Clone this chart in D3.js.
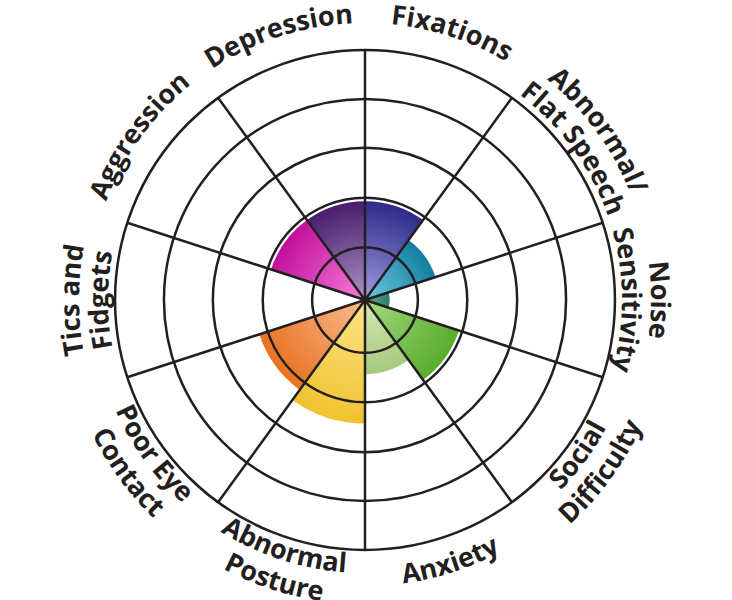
<!DOCTYPE html>
<html>
<head>
<meta charset="utf-8">
<script src="https://cdn.jsdelivr.net/npm/d3@7"></script>
<style>
  body { margin: 0; background: #fff; }
  text { font-family: "Open Sans", sans-serif; font-weight: 700; fill: #231f20; }
</style>
</head>
<body>
<div id="chart"></div>
<script>
// categories, clockwise from 12 o'clock (label lines)
const categories = [
  ["Fixations"],
  ["Abnormal/", "Flat Speech"],
  ["Noise", "Sensitivity"],
  ["Social", "Difficulty"],
  ["Anxiety"],
  ["Abnormal", "Posture"],
  ["Poor Eye", "Contact"],
  ["Tics and", "Fidgets"],
  ["Aggression"],
  ["Depression"]
];
const values = [2, 1.5, 0.5, 2, 1.5, 2.5, 2.25, 0, 2, 2];
const innerColors = ["#a19de0", "#6ccbe2", "#5fae9e", "#a6d97e", "#d6e9b3", "#fde58a", "#f9bc90", "#ffffff", "#f67ddb", "#ab93c7"];
const outerColors = ["#2d2a8a", "#137ea0", "#2a7d6c", "#58ad2c", "#a6ca7e", "#f0c22e", "#e87322", "#ffffff", "#c2109b", "#491d6d"];
const ringLevels = [1.07, 2.07, 3.08, 4.07, 5.06];

const width = 732, height = 600;
const cx = 365, cy = 300;

const svg = d3.select("#chart")
    .append("svg")
    .attr("width", width)
    .attr("height", height);

const r = d3.scaleLinear().domain([0, 5]).range([0, 247]);
const step = 2 * Math.PI / categories.length;

const defs = svg.append("defs");
const g = svg.append("g").attr("transform", `translate(${cx},${cy})`);

// gradients, light at the middle and dark at the edge
values.forEach((v, i) => {
    const grad = defs.append("radialGradient")
        .attr("id", "grad" + i)
        .attr("gradientUnits", "userSpaceOnUse")
        .attr("cx", 0).attr("cy", 0)
        .attr("r", Math.max(r(v), 1));
    grad.append("stop").attr("offset", "0%").attr("stop-color", innerColors[i]);
    grad.append("stop").attr("offset", "100%").attr("stop-color", outerColors[i]);
});

const arc = d3.arc()
    .innerRadius(0)
    .outerRadius(d => r(d.value))
    .startAngle(d => d.index * step)
    .endAngle(d => (d.index + 1) * step);

g.selectAll(".slice")
    .data(values.map((value, index) => ({ value, index })))
    .enter().append("path")
    .attr("class", "slice")
    .attr("d", arc)
    .attr("fill", d => `url(#grad${d.index})`);

// rings
g.selectAll(".ring")
    .data(ringLevels)
    .enter().append("circle")
    .attr("class", "ring")
    .attr("r", d => r(d))
    .attr("fill", "none")
    .attr("stroke", "#231f20")
    .attr("stroke-width", 2.5);

// spokes
const outerR = r(ringLevels[ringLevels.length - 1]);
g.selectAll(".spoke")
    .data(d3.range(categories.length))
    .enter().append("line")
    .attr("class", "spoke")
    .attr("x1", 0).attr("y1", 0)
    .attr("x2", i => outerR * Math.sin(i * step))
    .attr("y2", i => -outerR * Math.cos(i * step))
    .attr("stroke", "#231f20")
    .attr("stroke-width", 2.5);

g.append("circle").attr("r", 3.5).attr("fill", "#231f20");

// labels on arcs
const pt = (rad, a) => [rad * Math.sin(a), -rad * Math.cos(a)];

categories.forEach((lines, i) => {
    const mid = (i + 0.5) * step;
    const bottom = mid > Math.PI / 2 + 0.01 && mid < 3 * Math.PI / 2 - 0.01;
    let radii;
    if (bottom) radii = lines.length === 1 ? [286] : [273, 304];
    else radii = lines.length === 1 ? [277] : [286, 257];

    lines.forEach((line, j) => {
        const rad = radii[j];
        const span = 1.4;
        let d;
        if (!bottom) {
            const p0 = pt(rad, mid - span), p1 = pt(rad, mid + span);
            d = `M${p0[0]},${p0[1]} A${rad},${rad} 0 0 1 ${p1[0]},${p1[1]}`;
        } else {
            const p0 = pt(rad, mid + span), p1 = pt(rad, mid - span);
            d = `M${p0[0]},${p0[1]} A${rad},${rad} 0 0 0 ${p1[0]},${p1[1]}`;
        }
        const id = `lab${i}_${j}`;
        defs.append("path").attr("id", id).attr("d", d);
        g.append("text")
            .attr("font-size", 27)
            .attr("text-anchor", "middle")
            .append("textPath")
            .attr("href", "#" + id)
            .attr("startOffset", "50%")
            .text(line);
    });
});
</script>
</body>
</html>
